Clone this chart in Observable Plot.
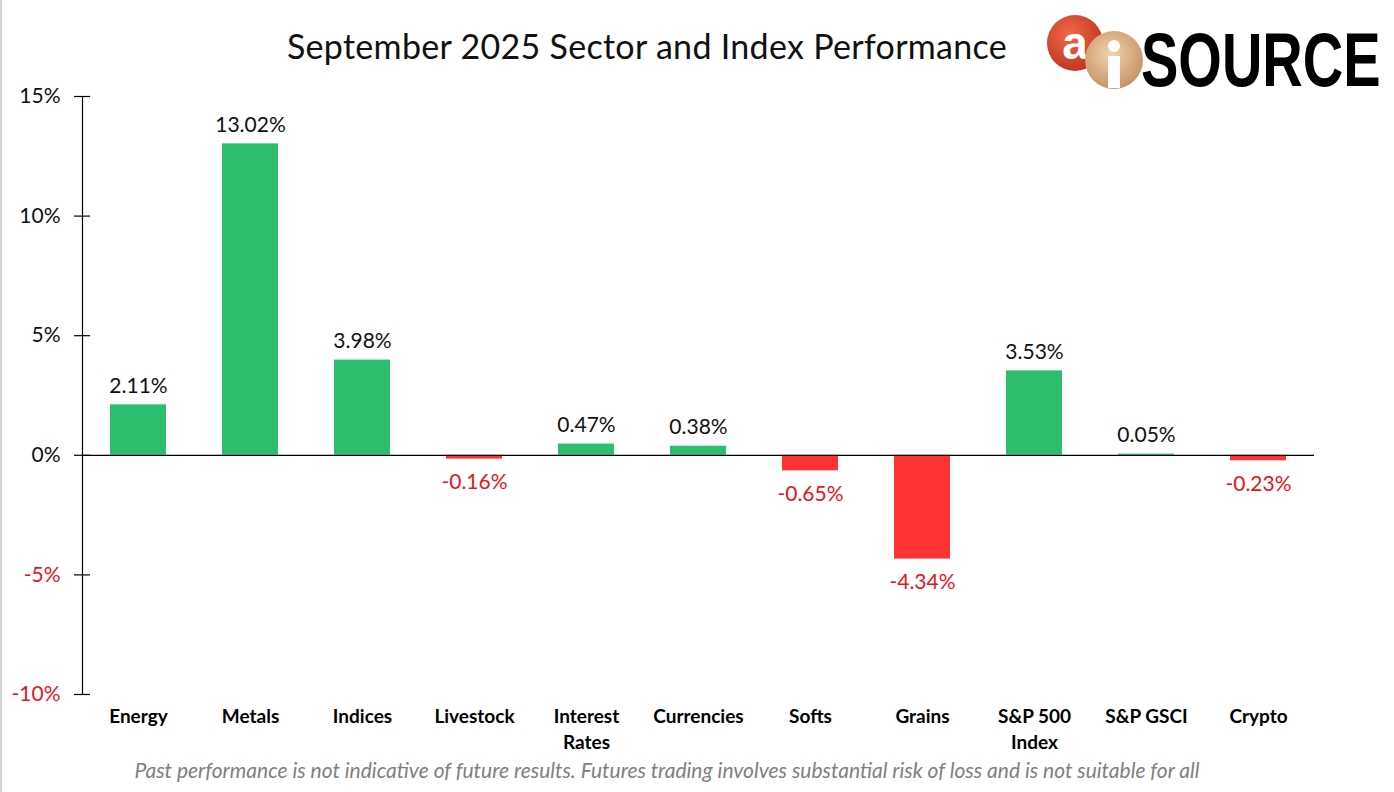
<!DOCTYPE html>
<html>
<head>
<meta charset="utf-8">
<script src="https://cdn.jsdelivr.net/npm/d3@7"></script>
<script src="https://cdn.jsdelivr.net/npm/@observablehq/plot@0.6"></script>
<style>
  html, body { margin: 0; padding: 0; background: #fff; }
  body { width: 1394px; height: 792px; position: relative; overflow: hidden; font-family: Lato, "Open Sans", sans-serif; }
  #edge { position: absolute; left: 0; top: 0; width: 2px; height: 792px; background: #d4d4d4; }
  #title { position: absolute; left: 0; width: 1294px; top: 25px; text-align: center; font-size: 34px; color: #111; letter-spacing: 0.3px; }
  #logo { position: absolute; left: 1044px; top: 2px; overflow: visible; }
  #footer { position: absolute; left: 0; width: 1334px; top: 757px; text-align: center; font-size: 21px; font-style: italic; color: #808080; }
  #chart { position: absolute; left: 0; top: 0; }
</style>
</head>
<body>
<div id="edge"></div>
<div id="chart"></div>
<div id="title">September 2025 Sector and Index Performance</div>
<svg id="logo" width="348" height="104" viewBox="0 -10 348 104">
  <defs>
    <radialGradient id="rg" cx="40%" cy="35%" r="70%">
      <stop offset="0%" stop-color="#f06a4a"/>
      <stop offset="100%" stop-color="#c0301e"/>
    </radialGradient>
    <radialGradient id="gg" cx="45%" cy="40%" r="70%">
      <stop offset="0%" stop-color="#f3d3b0"/>
      <stop offset="100%" stop-color="#c08a5a"/>
    </radialGradient>
  </defs>
  <circle cx="31" cy="31" r="28" fill="url(#rg)"/>
  <text x="31" y="47" text-anchor="middle" font-family="Liberation Sans, Arial" font-weight="bold" font-size="46" fill="#fff">a</text>
  <circle cx="70" cy="48" r="29" fill="url(#gg)"/>
  <rect x="64" y="44" width="12" height="32" fill="#fff"/>
  <circle cx="70" cy="34" r="6" fill="#fff"/>
  <text x="97" y="54.4" transform="scale(1,1.36)" font-family="Liberation Sans, Arial" font-weight="bold" font-size="56" fill="#000">SOURCE</text>
</svg>
<div id="footer">Past performance is not indicative of future results. Futures trading involves substantial risk of loss and is not suitable for all</div>
<script>
const categories = ["Energy", "Metals", "Indices", "Livestock", "Interest\nRates", "Currencies", "Softs", "Grains", "S&P 500\nIndex", "S&P GSCI", "Crypto"];
const values = [2.11, 13.02, 3.98, -0.16, 0.47, 0.38, -0.65, -4.34, 3.53, 0.05, -0.23];
const yTicks = [-10, -5, 0, 5, 10, 15];

const GREEN = "#2ebf6e";
const RED = "#ff3333";
const data = categories.map((c, i) => ({category: c, value: values[i]}));
const pos = data.filter(d => d.value >= 0);
const neg = data.filter(d => d.value < 0);
const pct = v => v.toFixed(2) + "%";

const chart = Plot.plot({
  width: 1394,
  height: 792,
  marginLeft: 82,
  marginRight: 80,
  marginTop: 96,
  marginBottom: 98,
  style: {fontFamily: "Lato, 'Open Sans', sans-serif", background: "transparent", overflow: "visible"},
  x: {domain: categories, paddingInner: 0.5, paddingOuter: 0.25, label: null},
  y: {domain: [-10, 15], label: null},
  marks: [
    Plot.barY(data, {x: "category", y: "value", fill: d => d.value >= 0 ? GREEN : RED}),
    Plot.ruleY([0], {stroke: "#000", strokeWidth: 1.2}),
    Plot.frame({anchor: "left", stroke: "#000", strokeWidth: 1.2}),
    Plot.axisY({ticks: yTicks, tickSize: 8, tickPadding: 14, fontSize: 21, strokeWidth: 1.2,
      tickFormat: d => d + "%", fill: d => d < 0 ? "#e8141c" : "#111", label: null}),
    Plot.axisY({ticks: yTicks, tickSize: -8, tickFormat: () => "", strokeWidth: 1.2, label: null}),
    Plot.axisX({tickSize: 0, tickPadding: 10, fontSize: 19, fontWeight: "bold", fill: "#000", label: null, lineHeight: 1.37}),
    Plot.text(pos, {x: "category", y: "value", text: d => pct(d.value), dy: -19, fontSize: 21, fill: "#111"}),
    Plot.text(neg, {x: "category", y: "value", text: d => pct(d.value), dy: 23, fontSize: 21, fill: "#e8141c"})
  ]
});
document.getElementById("chart").appendChild(chart);
</script>
</body>
</html>
